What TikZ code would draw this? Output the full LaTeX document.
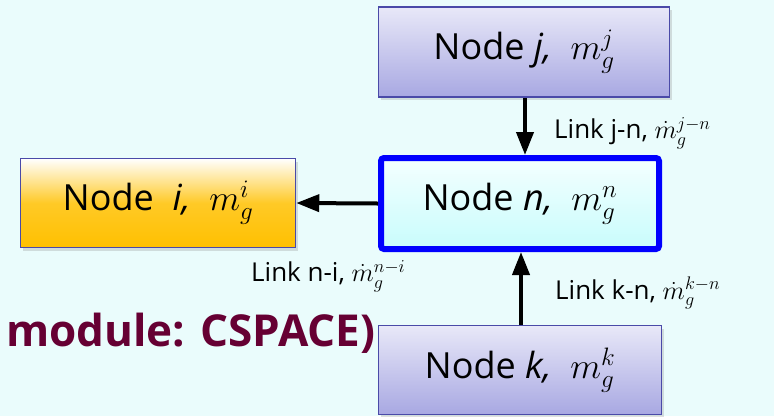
\RequirePackage{fix-cm}
\documentclass[tikz,border=0pt]{standalone}
\usepackage{fontspec}
\setmainfont{Open Sans}
\usetikzlibrary{shadows,arrows.meta}
\definecolor{bg}{HTML}{EAFCFC}
\definecolor{lavtop}{HTML}{E8E8F8}
\definecolor{lavbot}{HTML}{A8A8E2}
\definecolor{lavborder}{HTML}{4A4AA8}
\definecolor{amber}{HTML}{FFC000}
\definecolor{maroon}{HTML}{660033}
\definecolor{ntop}{HTML}{F4FFFF}
\definecolor{nbot}{HTML}{C8FCFC}
\begin{document}
\begin{tikzpicture}[x=1pt,y=-1pt,
  box/.style={rectangle, draw=lavborder, line width=1.5pt, inner sep=0pt,
    font=\fontsize{36}{42}\selectfont,
    drop shadow={shadow xshift=2pt, shadow yshift=-3pt, opacity=0.25}},
  lavbox/.style={box, top color=lavtop, bottom color=lavbot},
  nbox/.style={rectangle, draw=blue, line width=6pt, rounded corners=3pt, inner sep=0pt,
    top color=ntop, bottom color=nbot,
    font=\fontsize{36}{42}\selectfont},
  ibox/.style={box, top color=white, bottom color=amber, middle color=amber!85!white},
  lbl/.style={font=\fontsize{26}{32}\selectfont, inner sep=0pt, anchor=west},
  link/.style={line width=4pt, -{Triangle[length=23pt,width=17pt]}}
]
\useasboundingbox (0,0) rectangle (774,416);
\fill[bg] (0,0) rectangle (774,416);

\node[lavbox, minimum width=291pt, minimum height=90pt] (j) at (524,52) {Node \textit{j,}\ \ $m_g^{j}$};
\node[nbox, minimum width=278pt, minimum height=91pt] (n) at (520,203.5) {Node \textit{n,}\ \ $m_g^{n}$};
\node[ibox, minimum width=275pt, minimum height=89pt] (i) at (158,203) {Node \ \textit{i,}\ \ $m_g^{i}$};
\node[lavbox, minimum width=283pt, minimum height=89pt] (k) at (520,370) {Node \textit{k,}\ \ $m_g^{k}$};

\draw[link] (j.south -| 525,0) -- (n.north -| 525,0);
\draw[link] (n.west) -- (i.east);
\draw[link] (k.north -| 521,0) -- (n.south -| 521,0);

\node[lbl] (ljn) at (554,133) {Link j-n, $\dot{m}_g^{j-n}$};
\node[lbl] (lni) at (251,276) {Link n-i, $\dot{m}_g^{n-i}$};
\node[lbl] (lkn) at (555,293) {Link k-n, $\dot{m}_g^{k-n}$};

\node[anchor=west, inner sep=0pt, text=maroon, font=\fontsize{44}{52}\selectfont\bfseries] (mod) at (6,333) {module: CSPACE)};
\end{tikzpicture}
\end{document}
